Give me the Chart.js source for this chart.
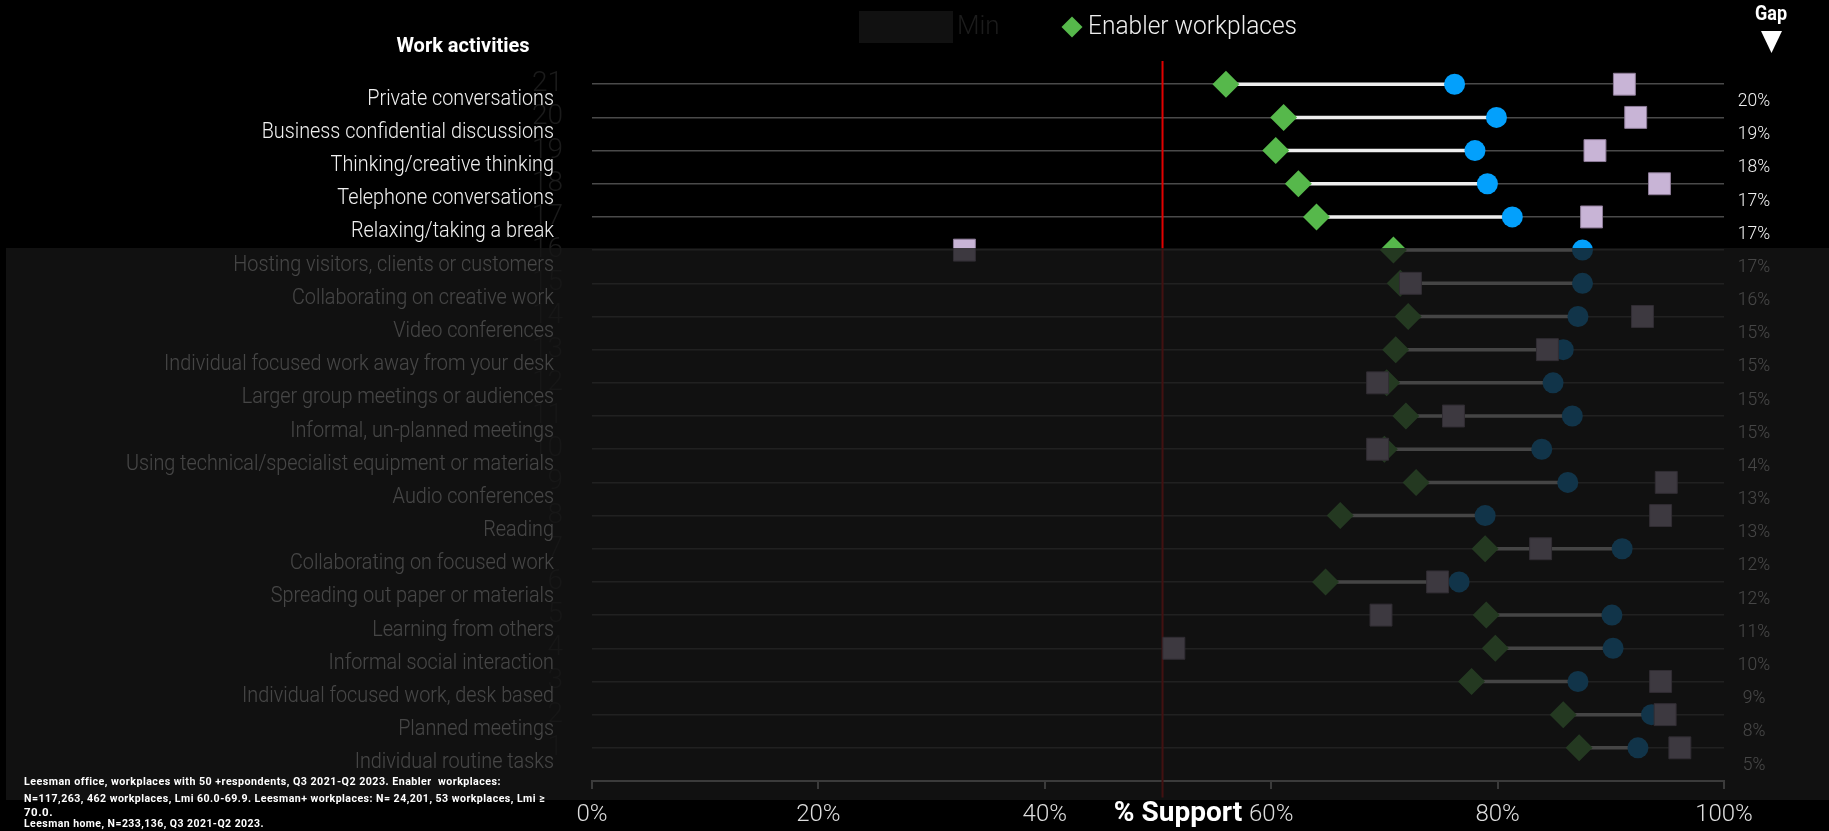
<!DOCTYPE html>
<html>
<head>
<meta charset="utf-8">
<script src="https://cdn.jsdelivr.net/npm/chart.js"></script>
<style>
    html, body { margin: 0; padding: 0; background: #000; }
    canvas { display: block; }
</style>
</head>
<body>
<canvas id="activityChart" width="1829" height="831"></canvas>
<script>
var activities = [
    'Private conversations',
    'Business confidential discussions',
    'Thinking/creative thinking',
    'Telephone conversations',
    'Relaxing/taking a break',
    'Hosting visitors, clients or customers',
    'Collaborating on creative work',
    'Video conferences',
    'Individual focused work away from your desk',
    'Larger group meetings or audiences',
    'Informal, un-planned meetings',
    'Using technical/specialist equipment or materials',
    'Audio conferences',
    'Reading',
    'Collaborating on focused work',
    'Spreading out paper or materials',
    'Learning from others',
    'Informal social interaction',
    'Individual focused work, desk based',
    'Planned meetings',
    'Individual routine tasks'
];

// % support per activity
var enabler = [56.0, 61.1, 60.4, 62.4, 64.0, 70.8, 71.4, 72.1, 71.0, 70.2, 71.9, 70.0, 72.8, 66.1, 78.9, 64.8, 79.0, 79.8, 77.7, 85.8, 87.2];
var leesmanPlus = [76.2, 79.9, 78.0, 79.1, 81.3, 87.5, 87.5, 87.1, 85.8, 84.9, 86.6, 83.9, 86.2, 78.9, 91.0, 76.6, 90.1, 90.2, 87.1, 93.6, 92.4];
var home = [91.2, 92.2, 88.6, 94.3, 88.3, 32.9, 72.3, 92.8, 84.4, 69.4, 76.1, 69.4, 94.9, 94.4, 83.8, 74.7, 69.7, 51.4, 94.4, 94.8, 96.1];
var minLine = 50.4;
var xTicks = [0, 20, 40, 60, 80, 100];

var footnote = [
    'Leesman office, workplaces with 50 +respondents, Q3 2021-Q2 2023. Enabler  workplaces:',
    'N=117,263, 462 workplaces, Lmi 60.0-69.9. Leesman+ workplaces: N= 24,201, 53 workplaces, Lmi \u2265',
    '70.0.',
    'Leesman home, N=233,136, Q3 2021-Q2 2023.'
];

var FONT = 'Roboto, "Noto Sans", sans-serif';
var n = activities.length;

// row 1 is at the bottom, first activity on top
function rowOf(i) { return n - i; }

function points(values) {
    return values.map(function (v, i) { return { x: v, y: rowOf(i) }; });
}

// white bar between enabler and leesman+ markers, nulls break the line per row
var connectors = [];
activities.forEach(function (a, i) {
    connectors.push({ x: enabler[i], y: rowOf(i) });
    connectors.push({ x: leesmanPlus[i], y: rowOf(i) });
    connectors.push({ x: null, y: null });
});

function squeezeText(ctx, s, x, y, k) {
    ctx.fillText(s, x, y, ctx.measureText(s).width * k);
}

var decor = {
    id: 'decor',
    afterDatasetsDraw: function (chart) {
        var ctx = chart.ctx;
        var yScale = chart.scales.y;
        ctx.save();
        ctx.textBaseline = 'middle';

        // activity names sit just under their row line
        ctx.fillStyle = '#f0f0f0';
        ctx.font = '300 22px ' + FONT;
        ctx.textAlign = 'right';
        activities.forEach(function (a, i) {
            squeezeText(ctx, a, 554, yScale.getPixelForValue(rowOf(i)) + 15, 0.9);
        });

        // gap between enabler and leesman+
        ctx.font = '300 19px ' + FONT;
        ctx.textAlign = 'center';
        activities.forEach(function (a, i) {
            var gap = Math.round(leesmanPlus[i] - enabler[i]);
            squeezeText(ctx, gap + '%', 1754, yScale.getPixelForValue(rowOf(i)) + 17, 0.92);
        });

        // dim everything below the first five activities
        var top = Math.round(yScale.getPixelForValue(rowOf(5))) - 2;
        ctx.fillStyle = 'rgba(22,22,22,0.78)';
        ctx.fillRect(6, top, chart.width - 6, 800 - top);

        // headers
        ctx.fillStyle = '#ffffff';
        ctx.font = 'bold 20px ' + FONT;
        ctx.fillText('Work activities', 463, 47);
        ctx.font = 'bold 20px ' + FONT;
        squeezeText(ctx, 'Gap', 1771, 15, 0.9);
        ctx.beginPath();
        ctx.moveTo(1761, 31);
        ctx.lineTo(1782, 31);
        ctx.lineTo(1771.5, 53);
        ctx.closePath();
        ctx.fill();

        // legend
        ctx.fillStyle = '#111111';
        ctx.fillRect(859, 11, 94, 32);
        ctx.textAlign = 'left';
        ctx.font = '300 26px ' + FONT;
        ctx.fillStyle = '#1c1c1c';
        ctx.fillText('Min', 957, 27);
        ctx.fillStyle = '#56b84b';
        Chart.helpers.drawPoint(ctx, { pointStyle: 'rectRot', radius: 10.5, borderWidth: 0 }, 1072, 27);
        ctx.fillStyle = '#eeeeee';
        ctx.fillText('Enabler workplaces', 1088, 27, 209);

        // axis title
        ctx.fillStyle = '#ffffff';
        ctx.textAlign = 'center';
        ctx.font = 'bold 28px ' + FONT;
        ctx.fillText('% Support', 1178, 814, 137);

        // source note
        ctx.textAlign = 'left';
        ctx.font = 'bold 11.5px ' + FONT;
        if ('letterSpacing' in ctx) ctx.letterSpacing = '0.5px';
        ctx.fillText(footnote[0], 24, 782, 477);
        ctx.fillText(footnote[1], 24, 799, 521);
        ctx.fillText(footnote[2], 24, 813);
        ctx.fillText(footnote[3], 24, 824, 240);
        ctx.restore();
    }
};

var ctx = document.getElementById('activityChart');
window.myChart = new Chart(ctx, {
    type: 'scatter',
    data: {
        datasets: [
            {
                label: 'Leesman home',
                data: points(home),
                pointStyle: 'rect',
                pointRadius: 15.5,
                backgroundColor: '#c8b4d6',
                borderColor: '#8e7c98',
                borderWidth: 1,
                order: 0
            },
            {
                label: 'Leesman+ workplaces',
                data: points(leesmanPlus),
                pointStyle: 'circle',
                pointRadius: 10.5,
                backgroundColor: '#03a0fc',
                borderWidth: 0,
                order: 1
            },
            {
                label: 'Enabler workplaces',
                data: points(enabler),
                pointStyle: 'rectRot',
                pointRadius: 13.5,
                backgroundColor: '#56b84b',
                borderWidth: 0,
                order: 2
            },
            {
                type: 'line',
                label: 'Gap',
                data: connectors,
                borderColor: '#eeeeee',
                borderWidth: 3.5,
                pointRadius: 0,
                spanGaps: false,
                order: 3
            },
            {
                type: 'line',
                label: 'Min',
                data: [{ x: minLine, y: -0.5 }, { x: minLine, y: 21.7 }],
                borderColor: '#e00000',
                borderWidth: 2,
                pointRadius: 0,
                clip: false,
                order: 4
            }
        ]
    },
    options: {
        responsive: false,
        animation: false,
        devicePixelRatio: 1,
        layout: { padding: { top: 61, right: 105, left: 0, bottom: 0 } },
        plugins: {
            legend: { display: false },
            tooltip: { enabled: false }
        },
        scales: {
            x: {
                min: 0,
                max: 100,
                afterBuildTicks: function (scale) {
                    scale.ticks = xTicks.map(function (v) { return { value: v }; });
                },
                afterFit: function (scale) { scale.height = 50; },
                ticks: {
                    color: '#dddddd',
                    font: { family: FONT, size: 24, weight: '300' },
                    padding: 12,
                    autoSkip: false,
                    callback: function (v) { return v + '%'; }
                },
                grid: { drawOnChartArea: false, drawTicks: true, tickLength: 8, color: '#bfbfbf', lineWidth: 2 },
                border: { display: true, color: '#bfbfbf', width: 2 }
            },
            y: {
                min: 0,
                max: 21.7,
                afterBuildTicks: function (scale) {
                    scale.ticks = activities.map(function (a, i) { return { value: rowOf(i) }; });
                },
                afterFit: function (scale) { scale.width = 592; },
                ticks: {
                    color: '#1b1b1b',
                    font: { family: FONT, size: 28, weight: '300' },
                    padding: 29,
                    autoSkip: false
                },
                grid: { color: '#4a4a4a', lineWidth: 1.5, drawTicks: false },
                border: { display: false }
            }
        }
    },
    plugins: [decor]
});
</script>
</body>
</html>
